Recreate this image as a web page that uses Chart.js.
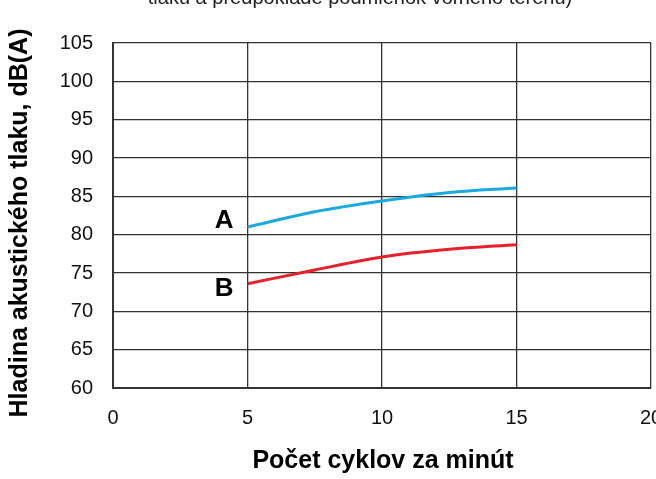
<!DOCTYPE html>
<html>
<head>
<meta charset="utf-8">
<script src="https://cdn.jsdelivr.net/npm/chart.js@4.4.1/dist/chart.umd.min.js"></script>
<style>
  html, body { margin: 0; padding: 0; background: #fff; }
  #wrap { width: 656px; height: 479px; }
</style>
</head>
<body>
<div id="wrap"><canvas id="noiseChart"></canvas></div>
<script>
"use strict";

// hodnoty odčítané z grafu
const cycles = [5, 7.5, 10, 12.5, 15];
const levelA = [81.0, 83.0, 84.4, 85.5, 86.1];
const levelB = [73.6, 75.4, 77.1, 78.1, 78.7];
const xTicks = [0, 5, 10, 15, 20];
const yTicks = [60, 65, 70, 75, 80, 85, 90, 95, 100, 105];

const topNote = "tlaku a predpoklade podmienok voľného terénu)";
const xTitle = "Počet cyklov za minút";
const yTitle = "Hladina akustického tlaku, dB(A)";

const FONT = "Arial, 'Liberation Sans', sans-serif";

function toPoints(xs, ys) {
  return xs.map((x, i) => ({ x: x, y: ys[i] }));
}

// popisy osí, písmená kriviek a orezaný text hore
const labelsPlugin = {
  id: "labels",
  afterDraw(chart) {
    const ctx = chart.ctx;
    const xs = chart.scales.x;
    const ys = chart.scales.y;
    const area = chart.chartArea;
    ctx.save();

    // text nad grafom (pokračovanie z predchádzajúceho riadku)
    ctx.font = "15px " + FONT;
    const w = ctx.measureText(topNote).width;
    const size = 15 * 425 / w;
    ctx.font = size.toFixed(2) + "px " + FONT;
    ctx.fillStyle = "#222";
    ctx.textAlign = "center";
    ctx.textBaseline = "alphabetic";
    ctx.fillText(topNote, 360, 4);

    ctx.fillStyle = "#000";
    ctx.font = "bold 26px " + FONT;
    ctx.textBaseline = "middle";
    ctx.fillText("A", xs.getPixelForValue(4.13), ys.getPixelForValue(82.0) + 1);
    ctx.fillText("B", xs.getPixelForValue(4.13), ys.getPixelForValue(73.1) + 1);

    ctx.font = "bold 25px " + FONT;
    ctx.fillText(xTitle, (area.left + area.right) / 2 + 1, 461);

    ctx.translate(20, 223);
    ctx.rotate(-Math.PI / 2);
    ctx.fillText(yTitle, 0, 0);
    ctx.restore();
  }
};

const ctx = document.getElementById("noiseChart").getContext("2d");
new Chart(ctx, {
  type: "line",
  data: {
    datasets: [
      {
        label: "A",
        data: toPoints(cycles, levelA),
        borderColor: "#1ba9e1",
        borderWidth: 3,
        pointRadius: 0,
        cubicInterpolationMode: "monotone",
        fill: false
      },
      {
        label: "B",
        data: toPoints(cycles, levelB),
        borderColor: "#e8202a",
        borderWidth: 3,
        pointRadius: 0,
        cubicInterpolationMode: "monotone",
        fill: false
      }
    ]
  },
  options: {
    responsive: true,
    maintainAspectRatio: false,
    animation: false,
    layout: { padding: { top: 43, right: 5, left: 0, bottom: 0 } },
    plugins: {
      legend: { display: false },
      tooltip: { enabled: false }
    },
    scales: {
      x: {
        type: "linear",
        min: 0,
        max: 20,
        afterBuildTicks(scale) {
          scale.ticks = xTicks.map(v => ({ value: v }));
        },
        afterFit(scale) {
          scale.height = 91;
          scale.paddingLeft = 0;
          scale.paddingRight = 0;
        },
        ticks: {
          color: "#111",
          font: { family: FONT, size: 20 },
          padding: 18,
          maxRotation: 0
        },
        grid: { color: "#333", lineWidth: 1.3, drawTicks: false },
        border: { color: "#333", width: 2 }
      },
      y: {
        min: 60,
        max: 105,
        afterBuildTicks(scale) {
          scale.ticks = yTicks.map(v => ({ value: v }));
        },
        afterFit(scale) {
          scale.width = 113;
          scale.paddingTop = 0;
          scale.paddingBottom = 0;
        },
        ticks: {
          color: "#111",
          font: { family: FONT, size: 20 },
          padding: 20
        },
        grid: { color: "#333", lineWidth: 1.3, drawTicks: false },
        border: { color: "#333", width: 2 }
      }
    }
  },
  plugins: [labelsPlugin]
});
</script>
</body>
</html>
